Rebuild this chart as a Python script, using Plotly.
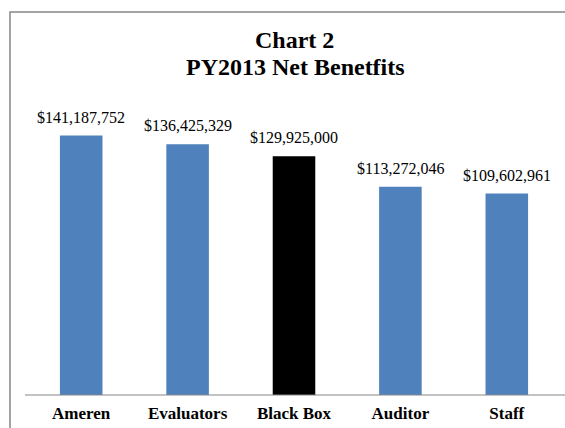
import plotly.graph_objects as go

categories = ["Ameren", "Evaluators", "Black Box", "Auditor", "Staff"]
values = [141187752, 136425329, 129925000, 113272046, 109602961]
colors = ["#4F81BD", "#4F81BD", "#000000", "#4F81BD", "#4F81BD"]
labels = ["${:,}".format(v) for v in values]

W, H = 565, 428
ml, mr, mt, mb = 28, 5, 101, 33
pw, ph = W - ml - mr, H - mt - mb

def px_x(x):
    return (x - ml) / pw

def px_y(y):
    return 1 - (y - mt) / ph

fig = go.Figure(go.Bar(
    x=categories, y=values, marker=dict(color=colors, line=dict(width=0)),
    width=0.4, hoverinfo="x+y",
))

serif = "Liberation Serif"
annotations = [
    dict(text="<b>Chart 2</b>", xref="paper", yref="paper", x=px_x(294), y=px_y(40),
         xanchor="center", yanchor="middle",
         showarrow=False, font=dict(family=serif, size=24, color="black")),
    dict(text="<b>PY2013 Net Benetfits</b>", xref="paper", yref="paper", x=px_x(295), y=px_y(67),
         xanchor="center", yanchor="middle",
         showarrow=False, font=dict(family=serif, size=24, color="black")),
]
for c, v, t in zip(categories, values, labels):
    annotations.append(dict(x=c, y=v, xref="x", yref="y", text=t, showarrow=False,
                            yanchor="bottom", yshift=8,
                            font=dict(family=serif, size=16, color="black")))

fig.update_layout(
    width=W, height=H, margin=dict(l=ml, r=mr, t=mt, b=mb),
    paper_bgcolor="white", plot_bgcolor="white", showlegend=False,
    xaxis=dict(showline=False, ticks="", ticklabelstandoff=6,
               tickfont=dict(family=serif, size=17, color="black", weight="bold")),
    yaxis=dict(range=[0, 160000000], visible=False),
    shapes=[
        dict(type="rect", xref="paper", yref="paper",
             x0=px_x(10), x1=px_x(600), y0=px_y(440), y1=px_y(12),
             line=dict(color="#868686", width=1.5), fillcolor="rgba(0,0,0,0)"),
        dict(type="line", xref="paper", yref="paper",
             x0=px_x(25), x1=px_x(570), y0=0, y1=0,
             line=dict(color="#868686", width=1)),
    ],
    annotations=annotations,
)

fig.write_html("out.html", config={"displayModeBar": False},
               post_script="document.body.style.margin='0';document.body.style.overflow='hidden';")
